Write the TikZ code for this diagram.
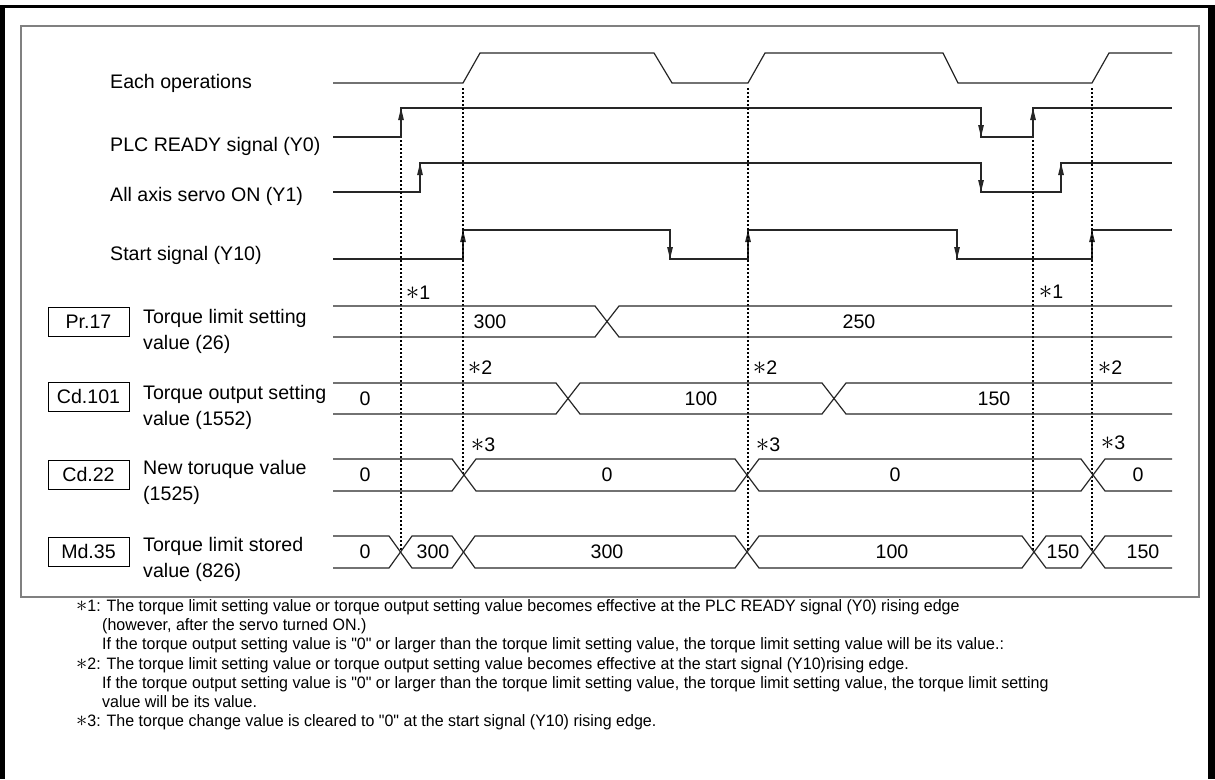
\documentclass[tikz,border=0pt]{standalone}
\usepackage{fontspec}
\setmainfont{Liberation Sans}
\newfontfamily\notefont{Liberation Sans}[FakeStretch=0.97,Ligatures=TeXOff]
\usetikzlibrary{arrows.meta}
\newcommand{\mk}[1]{\scalebox{1.3}{$\ast$}#1}

\begin{document}
\begin{tikzpicture}[
  x=1pt, y=-1pt,
  every node/.style={font=\fontsize{19.6}{25.5}\selectfont, inner sep=0pt},
  sig/.style={line width=1.2pt, black!85},
  edge/.style={sig, -{Triangle[length=12pt,width=5.5pt]}},
  bus/.style={line width=1.2pt, black!85},
  dots/.style={line width=1.5pt, dash pattern=on 2pt off 2pt},
  tag/.style={draw, line width=1pt, minimum width=81pt, minimum height=29pt},
  lbl/.style={anchor=base west},
  desc/.style={anchor=base west, align=left},
  note/.style={anchor=base west, font=\notefont\fontsize{16.5}{20}\selectfont}
]
  \useasboundingbox (0,0) rectangle (1215,779);

  % frames
  \fill (0,5) rectangle (5,779);
  \fill (0,5) rectangle (1215,8);
  \fill (1208,5) rectangle (1215,779);
  \draw[gray, line width=1.2pt] (21,26) rectangle (1199,597);

  % signal names
  \node[lbl] (ops) at (110,88) {Each operations};
  \node[lbl] (plc) at (110,151) {PLC READY signal (Y0)};
  \node[lbl] (servo) at (110,201) {All axis servo ON (Y1)};
  \node[lbl] (start) at (110,260) {Start signal (Y10)};

  % bit signals
  \draw[sig] (333,83) -- (463,83) -- (480,53) -- (654,53) -- (672,83) -- (748,83)
    -- (765,53) -- (943,53) -- (958,83) -- (1092,83) -- (1109,53) -- (1172,53);
  \draw[sig] (333,137) -- (401,137) -- (401,108) -- (981,108) -- (981,137)
    -- (1033,137) -- (1033,108) -- (1172,108);
  \draw[sig] (333,192) -- (420,192) -- (420,163) -- (981,163) -- (981,192)
    -- (1061,192) -- (1061,163) -- (1172,163);
  \draw[sig] (333,259) -- (463,259) -- (463,230) -- (670,230) -- (670,259)
    -- (748,259) -- (748,230) -- (957,230) -- (957,259) -- (1092,259)
    -- (1092,230) -- (1172,230);

  \draw[edge] (401,137) -- (401,108);
  \draw[edge] (981,108) -- (981,137);
  \draw[edge] (1033,137) -- (1033,108);
  \draw[edge] (420,192) -- (420,163);
  \draw[edge] (981,163) -- (981,192);
  \draw[edge] (1061,192) -- (1061,163);
  \draw[edge] (463,259) -- (463,230);
  \draw[edge] (670,230) -- (670,259);
  \draw[edge] (748,259) -- (748,230);
  \draw[edge] (957,230) -- (957,259);
  \draw[edge] (1092,259) -- (1092,230);

  % timing marks
  \draw[dots] (401,140) -- (401,552);
  \draw[dots] (463,88) -- (463,475);
  \draw[dots] (748,88) -- (748,552);
  \draw[dots] (1033,140) -- (1033,552);
  \draw[dots] (1092,88) -- (1092,552);

  % data rows
  \node[tag] (pr17) at (88.5,321.5) {Pr.17};
  \node[desc] (pr17d) at (143,349) {Torque limit setting\\value (26)};
  \draw[bus] (333,306) -- (595,306) -- (619,337) -- (1172,337);
  \draw[bus] (333,337) -- (595,337) -- (619,306) -- (1172,306);
  \node (pr17a) at (490,321.5) {300};
  \node (pr17b) at (859,321.5) {250};

  \node[tag] (cd101) at (88.5,396.5) {Cd.101};
  \node[desc] (cd101d) at (143,425) {Torque output setting\\value (1552)};
  \draw[bus] (333,383) -- (556,383) -- (580,414) -- (822,414) -- (846,383) -- (1172,383);
  \draw[bus] (333,414) -- (556,414) -- (580,383) -- (822,383) -- (846,414) -- (1172,414);
  \node (cd101a) at (365,398.5) {0};
  \node (cd101b) at (701,398.5) {100};
  \node (cd101c) at (994,398.5) {150};

  \node[tag] (cd22) at (88.5,474.5) {Cd.22};
  \node[desc] (cd22d) at (143,500) {New toruque value\\(1525)};
  \draw[bus] (333,459) -- (452,459) -- (476,491) -- (735,491) -- (759,459)
    -- (1081,459) -- (1105,491) -- (1172,491);
  \draw[bus] (333,491) -- (452,491) -- (476,459) -- (735,459) -- (759,491)
    -- (1081,491) -- (1105,459) -- (1172,459);
  \node (cd22a) at (365,475) {0};
  \node (cd22b) at (607,475) {0};
  \node (cd22c) at (895,475) {0};
  \node (cd22d0) at (1138,475) {0};

  \node[tag] (md35) at (88.5,551.5) {Md.35};
  \node[desc] (md35d) at (143,577) {Torque limit stored\\value (826)};
  \draw[bus] (333,536) -- (389,536) -- (412,568) -- (452,568) -- (475,536)
    -- (735,536) -- (759,568) -- (1022,568) -- (1046,536) -- (1081,536)
    -- (1105,568) -- (1172,568);
  \draw[bus] (333,568) -- (389,568) -- (412,536) -- (452,536) -- (475,568)
    -- (735,568) -- (759,536) -- (1022,536) -- (1046,568) -- (1081,568)
    -- (1105,536) -- (1172,536);
  \node (md35a) at (365,552) {0};
  \node (md35b) at (433,552) {300};
  \node (md35c) at (607,552) {300};
  \node (md35d0) at (892,552) {100};
  \node (md35e) at (1063,552) {150};
  \node (md35f) at (1143,552) {150};

  % note marks
  \node (s1a) at (418,293) {\mk{1}};
  \node (s1b) at (1051,292) {\mk{1}};
  \node (s2a) at (480,368) {\mk{2}};
  \node (s2b) at (765,368) {\mk{2}};
  \node (s2c) at (1110,368) {\mk{2}};
  \node (s3a) at (483,445) {\mk{3}};
  \node (s3b) at (768,445) {\mk{3}};
  \node (s3c) at (1113,443) {\mk{3}};

  % footnotes
  \node[note] (n1) at (76,611) {\mk{1}: The torque limit setting value or torque output setting value becomes effective at the PLC READY signal (Y0) rising edge};
  \node[note] (n1b) at (102,630) {(however, after the servo turned ON.)};
  \node[note] (n1c) at (102,649) {If the torque output setting value is "0" or larger than the torque limit setting value, the torque limit setting value will be its value.:};
  \node[note] (n2) at (76,669) {\mk{2}: The torque limit setting value or torque output setting value becomes effective at the start signal (Y10)rising edge.};
  \node[note] (n2b) at (102,688) {If the torque output setting value is "0" or larger than the torque limit setting value, the torque limit setting value, the torque limit setting};
  \node[note] (n2c) at (102,707) {value will be its value.};
  \node[note] (n3) at (76,726) {\mk{3}: The torque change value is cleared to "0" at the start signal (Y10) rising edge.};
\end{tikzpicture}
\end{document}
